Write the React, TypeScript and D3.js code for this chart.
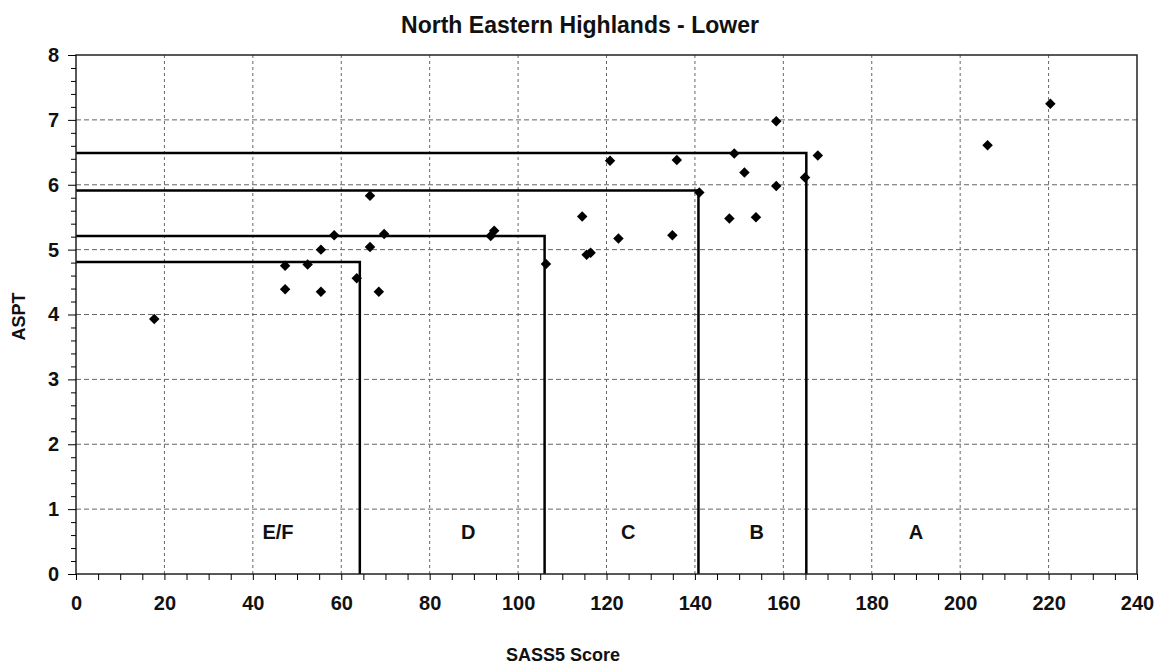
import React, { useEffect, useRef } from 'react';
import * as d3 from 'd3';

// SASS5 score vs ASPT, one point per site
const sassScores = [17.7, 47.3, 47.3, 52.4, 55.4, 55.4, 58.4, 63.5, 66.5, 66.5, 68.5, 69.7,
  93.8, 94.6, 106.3, 114.5, 115.5, 116.4, 120.8, 122.7, 134.9, 135.9, 141, 147.8,
  148.9, 151.2, 153.8, 158.4, 158.4, 164.9, 167.8, 206.2, 220.4];
const asptValues = [3.93, 4.75, 4.39, 4.77, 5.0, 4.35, 5.22, 4.56, 5.83, 5.04, 4.35, 5.24,
  5.21, 5.29, 4.78, 5.51, 4.92, 4.95, 6.37, 5.17, 5.22, 6.38, 5.88, 5.48,
  6.48, 6.19, 5.5, 6.98, 5.98, 6.11, 6.45, 6.61, 7.25];

// class boundaries (SASS5 cut, ASPT cut)
const boundarySass = [64.2, 106, 140.8, 165.2];
const boundaryAspt = [4.81, 5.21, 5.91, 6.49];

const classLabels = ['E/F', 'D', 'C', 'B', 'A'];
const classLabelX = [45.7, 88.7, 124.9, 154, 190];
const classLabelY = 0.64;

const xTicks = [0, 20, 40, 60, 80, 100, 120, 140, 160, 180, 200, 220, 240];
const yTicks = [0, 1, 2, 3, 4, 5, 6, 7, 8];

const W = 1161;
const H = 666;
const margin = { top: 55, right: 24, bottom: 92, left: 76 };
const font = '"Liberation Sans", Arial, sans-serif';

export default function App() {
  const ref = useRef<SVGSVGElement>(null);

  useEffect(() => {
    document.body.style.margin = '0';
    const svg = d3.select(ref.current);
    svg.selectAll('*').remove();

    const x = d3.scaleLinear().domain([0, 240]).range([margin.left, W - margin.right]);
    const y = d3.scaleLinear().domain([0, 8]).range([H - margin.bottom, margin.top]);
    const [x0, x1] = x.range();
    const [y0, y1] = y.range();

    svg.append('rect').attr('width', W).attr('height', H).attr('fill', '#fff');

    // grid
    const grid = svg.append('g').attr('stroke', '#666').attr('stroke-width', 1);
    grid.selectAll('.hg').data(yTicks.slice(1, -1)).enter().append('line')
      .attr('stroke-dasharray', '5,3')
      .attr('x1', x0).attr('x2', x1).attr('y1', d => y(d)).attr('y2', d => y(d));
    grid.selectAll('.vg').data(xTicks.slice(1, -1)).enter().append('line')
      .attr('stroke-dasharray', '3,3')
      .attr('y1', y0).attr('y2', y1).attr('x1', d => x(d)).attr('x2', d => x(d));

    // class boundary steps
    const step = d3.line<[number, number]>().x(d => x(d[0])).y(d => y(d[1]));
    boundarySass.forEach((s, i) => {
      const a = boundaryAspt[i];
      svg.append('path')
        .attr('d', step([[0, a], [s, a], [s, 0]]))
        .attr('fill', 'none').attr('stroke', '#000').attr('stroke-width', 2.5);
    });

    // frame
    svg.append('rect').attr('x', x0).attr('y', y1).attr('width', x1 - x0).attr('height', y0 - y1)
      .attr('fill', 'none').attr('stroke', '#222').attr('stroke-width', 1.5);

    // axes
    const xAxis = d3.axisBottom(x).tickValues(d3.range(0, 241, 5)).tickSize(6)
      .tickFormat(d => (xTicks.includes(+d) ? String(d) : ''));
    const gx = svg.append('g').attr('transform', `translate(0,${y0})`).call(xAxis);
    gx.select('.domain').remove();
    gx.selectAll('text').attr('font-size', 20).attr('font-weight', 'bold').attr('font-family', font)
      .attr('fill', '#111').attr('dy', '1.35em');

    const yAxis = d3.axisLeft(y).tickValues(d3.range(0, 8.01, 0.2).map(v => Math.round(v * 10) / 10))
      .tickSize(5).tickFormat(d => (yTicks.includes(+d) ? String(d) : ''));
    const gy = svg.append('g').attr('transform', `translate(${x0},0)`).call(yAxis);
    gy.select('.domain').remove();
    gy.selectAll('.tick line').attr('x2', (d: any) => (yTicks.includes(+d) ? -8 : -5));
    gy.selectAll('text').attr('font-size', 20).attr('font-weight', 'bold').attr('font-family', font)
      .attr('fill', '#111').attr('x', -17);

    // points
    const diamond = d3.symbol(d3.symbolSquare, 55);
    svg.append('g').selectAll('path').data(sassScores).enter().append('path')
      .attr('d', diamond)
      .attr('transform', (d, i) => `translate(${x(d)},${y(asptValues[i])}) rotate(45)`)
      .attr('fill', '#000');

    // class labels
    svg.append('g').selectAll('text').data(classLabels).enter().append('text')
      .attr('x', (d, i) => x(classLabelX[i])).attr('y', y(classLabelY))
      .attr('text-anchor', 'middle').attr('dy', '0.35em')
      .attr('font-size', 20).attr('font-weight', 'bold').attr('font-family', font).attr('fill', '#111')
      .text(d => d);

    // titles
    svg.append('text').attr('x', 580).attr('y', 33).attr('text-anchor', 'middle')
      .attr('font-size', 23).attr('font-weight', 'bold').attr('font-family', font).attr('fill', '#111')
      .text('North Eastern Highlands - Lower');
    svg.append('text').attr('x', 563).attr('y', 661).attr('text-anchor', 'middle')
      .attr('font-size', 18).attr('font-weight', 'bold').attr('font-family', font).attr('fill', '#111')
      .text('SASS5 Score');
    svg.append('text').attr('transform', `translate(25,${(y0 + y1) / 2 + 2}) rotate(-90)`)
      .attr('text-anchor', 'middle')
      .attr('font-size', 18).attr('font-weight', 'bold').attr('font-family', font).attr('fill', '#111')
      .text('ASPT');
  }, []);

  return <svg ref={ref} width={W} height={H} style={{ display: 'block' }} />;
}
